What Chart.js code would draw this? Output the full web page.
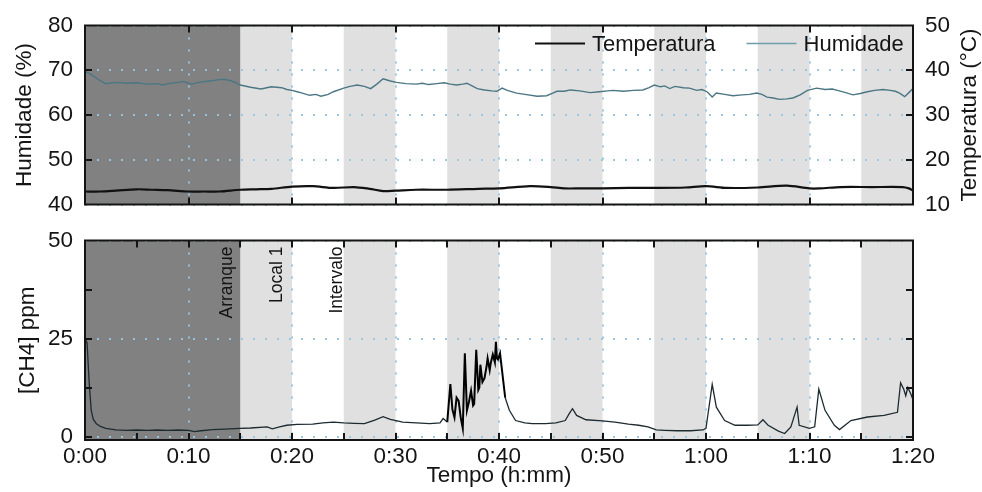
<!DOCTYPE html>
<html>
<head>
<meta charset="utf-8">
<script src="https://cdn.jsdelivr.net/npm/chart.js@4.4.1/dist/chart.umd.min.js"></script>
<style>
  html, body { margin:0; padding:0; background:#fff; }
  #wrap { position:relative; width:982px; height:492px; overflow:hidden; }
  canvas { position:absolute; left:0; }
  #cTop { top:0; }
  #cBot { top:215px; }
</style>
</head>
<body>
<div id="wrap">
  <canvas id="cTop" width="982" height="230" style="width:982px;height:230px"></canvas>
  <canvas id="cBot" width="982" height="277" style="width:982px;height:277px"></canvas>
</div>
<script>
/* Humidade / Temperatura (top) and [CH4] (bottom) vs time in minutes. */

const FONT = "'Liberation Sans', Arial, Helvetica, sans-serif";
const INK = "#141414";
const GRID = "rgba(150,196,222,0.95)";

// ---------- data (x in minutes) ----------
const tHum = [0,0.5,1,1.5,2,3,4,5,6,7,7.5,8,9,9.5,10,10.3,11,12,13,13.5,14,14.5,15,16,17,18,19,19.5,20,20.5,21,21.7,22.3,22.8,23.5,24,25,25.6,26.3,27,27.6,28.2,28.8,29.5,30.1,31,32,32.6,33.2,34,34.7,35.3,35.9,36.5,36.9,37.4,37.9,38.6,39.3,39.8,40.3,40.8,41.7,42.5,43.7,44.6,45.2,45.6,46.3,46.9,47.8,48.8,49.7,50.5,51,52,53,53.9,54.5,55,55.6,56,56.5,57,57.8,58.4,59.1,59.6,60.1,60.6,61,61.8,62.6,63.5,64.2,64.9,65.4,65.9,66.5,67.1,67.8,68.4,69.1,69.8,70.7,71.5,72.2,72.7,73.5,74.2,74.9,75.6,76.3,77.1,77.8,78.3,78.7,79.2,79.6,80];
const humidity = [69.8,69.2,68.4,67.6,67.0,67.3,67.1,67.2,66.9,67.0,66.7,67.0,67.3,67.5,67.1,66.9,67.3,67.6,67.9,68.0,67.7,67.3,66.7,66.2,65.8,66.3,66.1,65.7,65.5,65.2,64.9,64.4,64.6,64.2,64.6,65.2,66.0,66.4,66.7,66.4,65.9,66.9,68.1,67.6,67.3,67.0,66.9,67.1,66.8,67.0,67.2,66.9,66.7,66.9,67.1,66.5,65.9,65.6,65.4,65.3,66.0,65.5,64.9,64.6,64.2,64.3,64.9,65.3,65.3,65.6,65.4,65.0,65.2,65.4,65.5,65.3,65.5,65.6,66.1,66.7,66.3,66.5,65.9,66.4,66.1,66.0,65.5,65.7,65.2,64.0,64.9,64.6,64.3,64.5,64.6,64.9,64.6,64.0,63.8,63.5,63.6,63.8,64.5,65.5,66.0,65.7,65.8,65.5,65.0,64.5,64.8,65.2,65.5,65.7,65.5,65.3,64.9,64.1,65.0,65.9];

const tTemp = [0,1.5,3,5,6.5,8,10,11.5,13,15,16.5,18,20,22,24,26,27.5,28.8,30,32,35,38,40,43,45,46.3,48,50,52.5,55,58,60,62,65,67.8,70,71,73,76,79,79.6,80];
const temperature = [12.9,12.9,13.1,13.4,13.3,13.2,12.9,12.9,12.9,13.3,13.4,13.5,14.0,14.1,13.7,13.9,13.5,13.0,13.1,13.3,13.3,13.5,13.6,14.1,13.9,13.6,13.6,13.6,13.7,13.7,13.8,14.1,13.7,13.8,14.2,13.6,13.6,13.9,13.9,13.9,13.6,13.1];

const tCh4 = [0,0.2,0.4,0.6,0.8,1.1,1.5,2,3,4,5,6,7,8,9,10,10.6,11.2,12.3,13.5,15,16,17.6,18.1,18.8,19.5,20.5,22,23,24,25,26,27,28,28.8,29.5,30.7,32,33.3,34.3,34.6,35,35.3,35.5,35.7,35.9,36.1,36.3,36.5,36.7,36.9,37.1,37.3,37.5,37.6,37.8,38,38.1,38.2,38.4,38.6,38.8,38.9,39.1,39.2,39.4,39.6,39.7,39.8,39.9,40.1,40.3,40.6,41,41.6,42.5,43.2,44.5,45.5,46.4,46.8,47.1,47.5,48.4,50,51.2,52.5,53.5,54.4,55.2,56,57.2,58.5,59.7,60,60.2,60.6,61,61.8,62.8,64,65,65.5,66,67,67.6,68.2,68.8,69,70,70.5,70.9,71.5,72.4,72.9,74,75.6,77.2,78.5,78.8,79.1,79.3,79.5,79.8,80];
const ch4 = [25,24,14,6.8,4.5,3.4,2.7,2.2,1.8,1.7,1.8,1.7,1.8,1.7,1.8,1.7,1.4,1.6,1.9,2.0,2.2,2.3,2.6,2.1,2.6,3.0,3.2,3.3,3.6,3.8,3.6,3.5,3.4,4.3,5.2,4.5,3.8,3.6,3.4,3.6,4.7,3.8,13.5,7,5,10,9.2,5,2.2,21.3,6.8,9,11.8,8,8.4,22.2,12,12.6,18.4,14,15,18,20,17,18.8,21,19,24.2,20,19.7,21.3,16.8,10,6.8,4.2,3.6,3.4,3.4,3.6,4.2,6.0,7.2,5.5,4.4,4.1,3.8,3.3,3.0,2.6,1.8,1.7,1.6,1.6,1.8,2.2,6,13.4,7.6,4.2,3.0,3.0,3.1,4.4,3.0,1.5,0.9,2.6,7.6,3.0,2.2,2.6,12.2,6.8,3.0,1.9,4.2,5.1,5.5,6.3,13.8,12.2,10.5,12.6,10.9,9.5];

// axis ticks
const xLabelTicks = [0,10,20,30,40,50,60,70,80];
const xMinorTicks = [0,5,10,15,20,25,30,35,40,45,50,55,60,65,70,75,80];
const humTicks = [50,60,70];
const tempTicks = [20,30,40];
const ch4Labels = [0,25,50];
const ch4Marks = [0,12.5,25,37.5];

// phases (minutes): dark start-up, then alternating grey bands
const startUp = [0,15];
const bandStart = [15,25,35,45,55,65,75];
const bandEnd   = [20,30,40,50,60,70,80];
const phaseNames = ["Arranque","Local 1","Intervalo"];

// ---------- helpers ----------
const pad2 = n => String(n).padStart(2,"0");
const hmm = m => `${Math.floor(m/60)}:${pad2(Math.round(m%60))}`;
const xy = (xs, ys) => xs.map((x,i) => ({ x, y: ys[i] }));

const bandsPlugin = {
  id: "bands",
  beforeDraw(chart){
    const { ctx, chartArea:a, scales:{ x } } = chart;
    const px = v => x.getPixelForValue(v);
    ctx.save();
    ctx.fillStyle = "#fff"; ctx.fillRect(a.left, a.top, a.width, a.height);
    ctx.fillStyle = "#e0e0e0";
    bandStart.forEach((s,i) => ctx.fillRect(px(s), a.top, px(bandEnd[i]) - px(s), a.height));
    ctx.fillStyle = "#818181";
    ctx.fillRect(px(startUp[0]), a.top, px(startUp[1]) - px(startUp[0]), a.height);
    ctx.restore();
  }
};

const framePlugin = {
  id: "frame",
  afterDatasetsDraw(chart, args, o){
    const { ctx, chartArea:a, scales } = chart;
    const L = 7;
    ctx.save();
    ctx.strokeStyle = INK; ctx.lineWidth = 2;
    ctx.beginPath();
    o.xTicks.forEach(v => {
      const p = Math.round(scales.x.getPixelForValue(v));
      ctx.moveTo(p, a.top); ctx.lineTo(p, a.top + L);
      ctx.moveTo(p, a.bottom); ctx.lineTo(p, a.bottom - L);
    });
    (o.left || []).forEach(v => {
      const p = Math.round(scales[o.leftId].getPixelForValue(v));
      ctx.moveTo(a.left, p); ctx.lineTo(a.left + L, p);
    });
    (o.right || []).forEach(v => {
      const p = Math.round(scales[o.rightId].getPixelForValue(v));
      ctx.moveTo(a.right, p); ctx.lineTo(a.right - L, p);
    });
    ctx.stroke();
    ctx.strokeRect(a.left, a.top, a.width, a.height);

    // axis titles
    ctx.fillStyle = INK;
    ctx.font = `22.5px ${FONT}`;
    ctx.textAlign = "center"; ctx.textBaseline = "middle";
    (o.vTitles || []).forEach(t => {
      ctx.save();
      ctx.translate(t.side === "left" ? a.left - t.off : a.right + t.off, (a.top + a.bottom) / 2);
      ctx.rotate(-Math.PI/2);
      ctx.fillText(t.text, 0, 0);
      ctx.restore();
    });
    if (o.xTitle){
      ctx.textBaseline = "alphabetic";
      ctx.fillText(o.xTitle, (a.left + a.right) / 2, a.bottom + 42);
    }

    // legend (top panel)
    if (o.legend){
      ctx.font = `22px ${FONT}`;
      ctx.textAlign = "left"; ctx.textBaseline = "middle";
      let x = a.left + 450;
      const y = a.top + 18;
      chart.data.datasets.slice().reverse().forEach(ds => {
        ctx.strokeStyle = ds.legendColor || ds.borderColor;
        ctx.lineWidth = ds.borderWidth;
        ctx.beginPath(); ctx.moveTo(x, y); ctx.lineTo(x + 50, y); ctx.stroke();
        ctx.fillStyle = INK;
        ctx.fillText(ds.label, x + 57, y + 1);
        x += 57 + ctx.measureText(ds.label).width + 31;
      });
    }

    // phase annotations (bottom panel)
    if (o.phases){
      ctx.font = `17.5px ${FONT}`;
      ctx.fillStyle = INK;
      ctx.textAlign = "right"; ctx.textBaseline = "middle";
      o.phases.forEach((p,i) => {
        ctx.save();
        ctx.translate(scales.x.getPixelForValue(p), a.top + 6);
        ctx.rotate(-Math.PI/2);
        ctx.fillText(phaseNames[i], 0, 0);
        ctx.restore();
      });
    }
    ctx.restore();
  }
};

const tickFont = { family: FONT, size: 22.5 };
const xAxis = (showLabels, height) => ({
  type: "linear", min: 0, max: 80,
  afterBuildTicks: s => { s.ticks = xLabelTicks.map(v => ({ value: v })); },
  ticks: { display: showLabels, color: INK, font: tickFont, padding: 3, maxRotation: 0, callback: v => hmm(v) },
  grid: { color: GRID, lineWidth: 2, drawTicks: false },
  border: { display: false, dash: [2, 10] },
  afterFit: s => { s.height = height; }
});

// ---------- top: humidity + temperature ----------
new Chart(document.getElementById("cTop"), {
  type: "line",
  data: { datasets: [
    { label: "Humidade", data: xy(tHum, humidity), yAxisID: "yH",
      borderColor: "#4b7684", legendColor: "#6d9cab", borderWidth: 1.4, pointRadius: 0, tension: 0 },
    { label: "Temperatura", data: xy(tTemp, temperature), yAxisID: "yT",
      borderColor: "#111", borderWidth: 2.2, pointRadius: 0, tension: 0.3 }
  ]},
  options: {
    responsive: false, animation: false, events: [],
    layout: { padding: { top: 19, left: 0, right: 0, bottom: 0 } },
    plugins: { legend: { display: false }, tooltip: { enabled: false },
      frame: { xTicks: xLabelTicks, leftId: "yH", left: humTicks, rightId: "yT", right: tempTicks,
               legend: true,
               vTitles: [{ side: "left", off: 60, text: "Humidade (%)" },
                         { side: "right", off: 57, text: "Temperatura (°C)" }] } },
    scales: {
      x: xAxis(false, 10),
      yH: { position: "left", min: 40, max: 80,
            ticks: { stepSize: 10, color: INK, font: tickFont, padding: 12 },
            grid: { color: GRID, lineWidth: 2, drawTicks: false },
            border: { display: false, dash: [2, 10] },
            afterFit: s => { s.width = 85; } },
      yT: { position: "right", min: 10, max: 50,
            ticks: { stepSize: 10, color: INK, font: tickFont, padding: 12 },
            grid: { display: false, drawTicks: false },
            border: { display: false },
            afterFit: s => { s.width = 69; } }
    }
  },
  plugins: [bandsPlugin, framePlugin]
});

// ---------- bottom: CH4 ----------
new Chart(document.getElementById("cBot"), {
  type: "line",
  data: { datasets: [
    { label: "[CH4]", data: xy(tCh4, ch4), yAxisID: "y",
      borderColor: "#1d2b31", borderWidth: 1.3, pointRadius: 0, tension: 0,
      segment: { borderWidth: c => (c.p0.parsed.x >= 35 && c.p1.parsed.x <= 40.6) ? 2 : 1.3,
                 borderColor: c => (c.p0.parsed.x >= 35 && c.p1.parsed.x <= 40.6) ? "#000" : "#1d2b31" } }
  ]},
  options: {
    responsive: false, animation: false, events: [],
    layout: { padding: { top: 24, left: 0, right: 69, bottom: 0 } },
    plugins: { legend: { display: false }, tooltip: { enabled: false },
      frame: { xTicks: xMinorTicks, leftId: "y", left: ch4Marks, rightId: "y", right: ch4Marks,
               xTitle: "Tempo (h:mm)", phases: [13.7, 18.55, 24.35],
               vTitles: [{ side: "left", off: 57, text: "[CH4] ppm" }] } },
    scales: {
      x: xAxis(true, 52),
      y: { position: "left", min: -0.75, max: 50,
           afterBuildTicks: s => { s.ticks = ch4Labels.map(v => ({ value: v })); },
           ticks: { color: INK, font: tickFont, padding: 12 },
           grid: { color: GRID, lineWidth: 2, drawTicks: false },
           border: { display: false, dash: [2, 10] },
           afterFit: s => { s.width = 85; } }
    }
  },
  plugins: [bandsPlugin, framePlugin]
});
</script>
</body>
</html>
